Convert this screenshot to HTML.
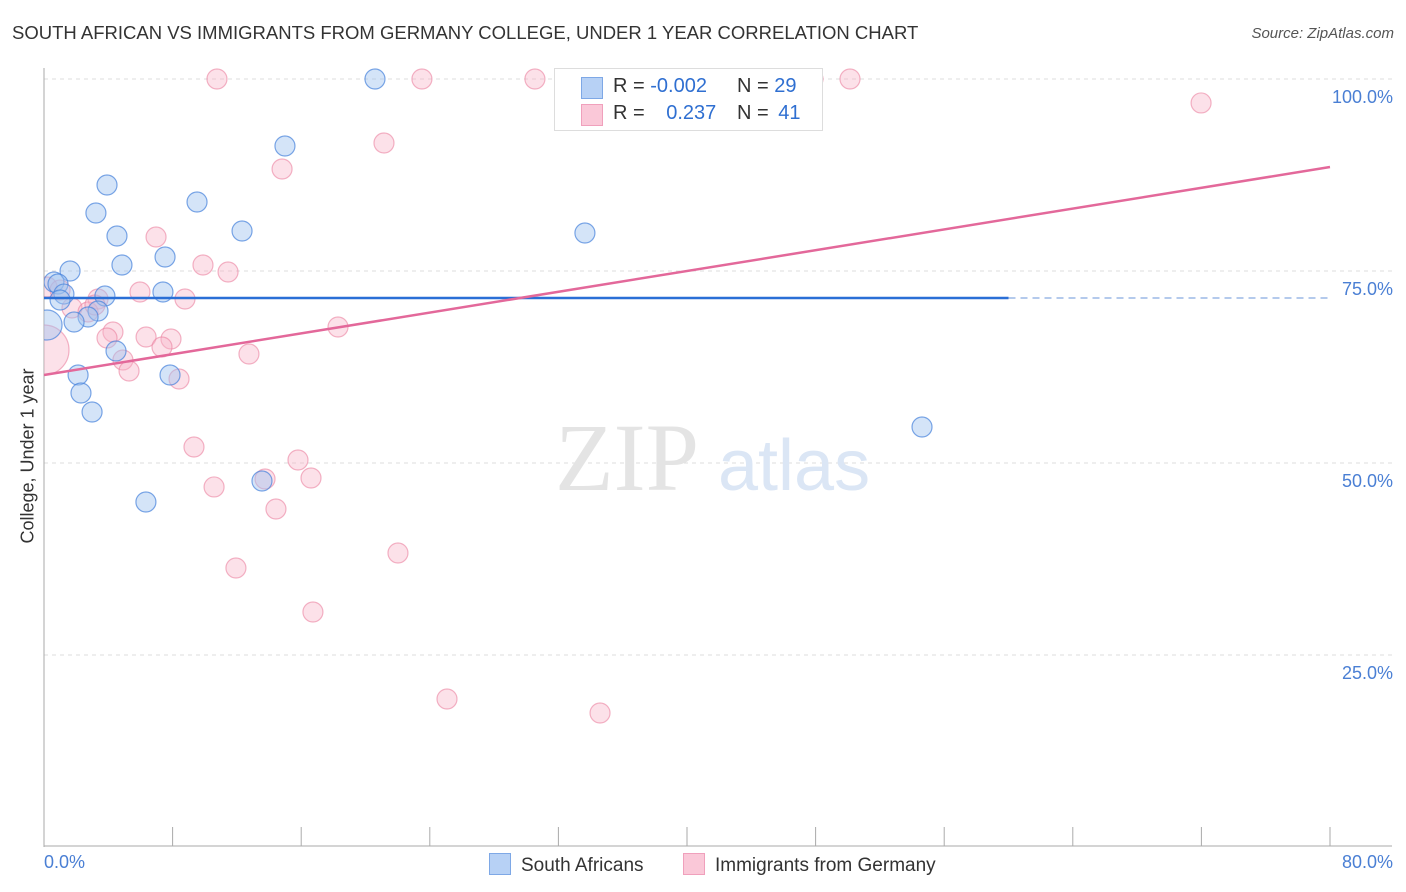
<!DOCTYPE html>
<html><head><meta charset="utf-8"><style>
body{margin:0;background:#fff;font-family:"Liberation Sans",sans-serif;}
#wrap{position:relative;width:1406px;height:892px;overflow:hidden;}
.t{position:absolute;white-space:nowrap;}
</style></head><body>
<div id="wrap">
<div class="t" style="left:12px;top:22px;font-size:18.5px;color:#333;">SOUTH AFRICAN VS IMMIGRANTS FROM GERMANY COLLEGE, UNDER 1 YEAR CORRELATION CHART</div>
<div class="t" style="right:12px;top:25px;font-size:15px;color:#555;font-style:italic;">Source: ZipAtlas.com</div>
<div class="t" style="left:28px;top:456px;font-size:18px;color:#333;transform:translate(-50%,-50%) rotate(-90deg);">College, Under 1 year</div>
<svg id="svg" width="1406" height="892" style="position:absolute;left:0;top:0"></svg>
</div>
<script>
const blueX=[20.59,14.99,3.92,9.52,3.23,4.54,12.32,33.65,7.53,4.85,1.62,0.62,0.87,1.24,7.40,3.79,1.0,3.36,2.74,1.87,0.19,4.48,2.12,7.84,2.30,2.99,54.62,13.56,6.34];
const blueY=[100,91.28,86.2,83.98,82.55,79.56,80.21,79.95,76.82,75.78,75.0,73.57,73.31,72.0,72.27,71.74,71.22,69.79,69.01,68.36,67.97,64.58,61.46,61.46,59.11,56.64,54.69,47.66,44.92];
const blueR=[10,10,10,10,10,10,10,10,10,10,10,10,10,10,10,10,10,10,10,10,15,10,10,10,10,10,10,10,10];
const pinkX=[10.76,23.51,30.54,47.84,50.14,71.98,21.15,14.81,6.97,9.89,11.45,5.97,8.77,3.36,1.74,2.74,4.29,3.92,6.35,7.90,7.34,18.29,12.75,4.91,5.29,8.40,0.0,0.19,9.33,15.80,10.58,16.61,13.75,14.43,22.02,11.94,16.73,25.07,34.59,1.0,3.17];
const pinkY=[100,100,100,100,100,96.88,91.67,88.28,79.43,75.78,74.87,72.27,71.35,71.35,70.18,69.66,67.06,66.28,66.41,66.15,65.1,67.71,64.19,63.41,61.98,60.94,64.71,72.92,52.08,50.39,46.88,48.05,47.92,44.01,38.28,36.33,30.6,19.27,17.45,72.53,70.57];
const pinkR=[10,10,10,10,10,10,10,10,10,10,10,10,10,10,10,10,10,10,10,10,10,10,10,10,10,10,25,10,10,10,10,10,10,10,10,10,10,10,10,10,10];
const blueTrend=[71.48,71.48];
const pinkTrend=[61.46,88.54];
const yTicks=[25,50,75,100];
const yTickLabels=["25.0%","50.0%","75.0%","100.0%"];
const xTicks=[0,8,16,24,32,40,48,56,64,72,80];

const NS="http://www.w3.org/2000/svg";
const svg=document.getElementById('svg');
const X=v=>44+v/80*1286, Y=v=>847-v*7.68;
function mk(tag,a,p){const e=document.createElementNS(NS,tag);for(const k in a)e.setAttribute(k,a[k]);(p||svg).appendChild(e);return e;}
const defs=mk('defs',{});
const cp=mk('clipPath',{id:'clip'},defs);
mk('rect',{x:44,y:40,width:1360,height:807},cp);
yTicks.forEach((t,i)=>{
 const g=mk('line',{x1:44,x2:1392,y1:Y(t),y2:Y(t),stroke:'#ddd','stroke-dasharray':'4,4'});
 
 
 const tx=mk('text',{x:1393,y:Y(t)+24,'text-anchor':'end','font-size':18,fill:'#4a7fd4','font-family':'Liberation Sans'});
 tx.textContent=yTickLabels[i];
 
 
});
mk('line',{x1:44,x2:44,y1:68,y2:847,stroke:'#aaa'});
mk('line',{x1:44,x2:1392,y1:846,y2:846,stroke:'#aaa'});
xTicks.forEach(t=>{
 const l=mk('line',{x1:X(t),x2:X(t),y1:827,y2:846,stroke:'#aaa'});
 
 
});
const w=mk('text',{x:555,y:490,'font-size':96,fill:'#e4e4e4','font-family':'Liberation Serif'});w.textContent='ZIP';


const w2=mk('text',{x:718,y:490,'font-size':72,fill:'#dbe6f5','font-family':'Liberation Sans'});w2.textContent='atlas';


const g=mk('g',{'clip-path':'url(#clip)'});
pinkX.forEach((v,i)=>{const c=mk('circle',{cx:X(v),cy:Y(pinkY[i]),r:pinkR[i],fill:'rgba(248,180,200,0.4)',stroke:'rgba(235,130,160,0.6)','stroke-width':1.2},g);
 
 });
blueX.forEach((v,i)=>{const c=mk('circle',{cx:X(v),cy:Y(blueY[i]),r:blueR[i],fill:'rgba(160,195,240,0.45)',stroke:'rgba(70,130,220,0.7)','stroke-width':1.2},g);
 
 });
const bAt=v=>blueTrend[0]+(blueTrend[1]-blueTrend[0])*v/80;
const bt=mk('line',{x1:X(0),y1:Y(bAt(0)),x2:X(60),y2:Y(bAt(60)),stroke:'#2a6fd6','stroke-width':2.5});


const bd=mk('line',{x1:X(60),y1:Y(bAt(60)),x2:X(80),y2:Y(bAt(80)),stroke:'#9bb8e6','stroke-width':1.5,'stroke-dasharray':'7,5'});


const pt=mk('line',{x1:X(0),y1:Y(pinkTrend[0]),x2:X(80),y2:Y(pinkTrend[1]),stroke:'#e3689a','stroke-width':2.5});


</script>
<div class="t" style="left:44px;top:852px;font-size:18px;color:#4a7fd4;">0.0%</div>
<div class="t" style="right:13px;top:852px;font-size:18px;color:#4a7fd4;">80.0%</div>
<div style="position:absolute;left:554px;top:68px;width:267px;height:61px;border:1px solid #ddd;background:#fff;font-size:20px;">
 <div style="position:absolute;left:26px;top:8px;width:20px;height:20px;background:#b7d1f5;border:1px solid #7ea8e6;"></div>
 <div class="t" style="left:58px;top:6px;color:#333;">R = <span style="color:#2f6fd1">-0.002</span></div>
 <div class="t" style="left:182px;top:6px;color:#333;">N = <span style="color:#2f6fd1">29</span></div>
 <div style="position:absolute;left:26px;top:35px;width:20px;height:20px;background:#fac8d8;border:1px solid #f0a0bc;"></div>
 <div class="t" style="left:58px;top:33px;color:#333;">R = <span style="color:#2f6fd1;margin-left:16px">0.237</span></div>
 <div class="t" style="left:182px;top:33px;color:#333;">N = <span style="color:#2f6fd1;margin-left:4px">41</span></div>
</div>
<div style="position:absolute;left:489px;top:853px;font-size:19px;color:#333;">
 <span style="position:absolute;left:0;top:0;white-space:nowrap;"><span style="display:inline-block;width:20px;height:20px;background:#b7d1f5;border:1px solid #7ea8e6;vertical-align:-4px;margin-right:10px"></span>South Africans</span>
 <span style="position:absolute;left:194px;top:0;white-space:nowrap;"><span style="display:inline-block;width:20px;height:20px;background:#fac8d8;border:1px solid #f0a0bc;vertical-align:-4px;margin-right:10px"></span>Immigrants from Germany</span>
</div>
</body></html>
